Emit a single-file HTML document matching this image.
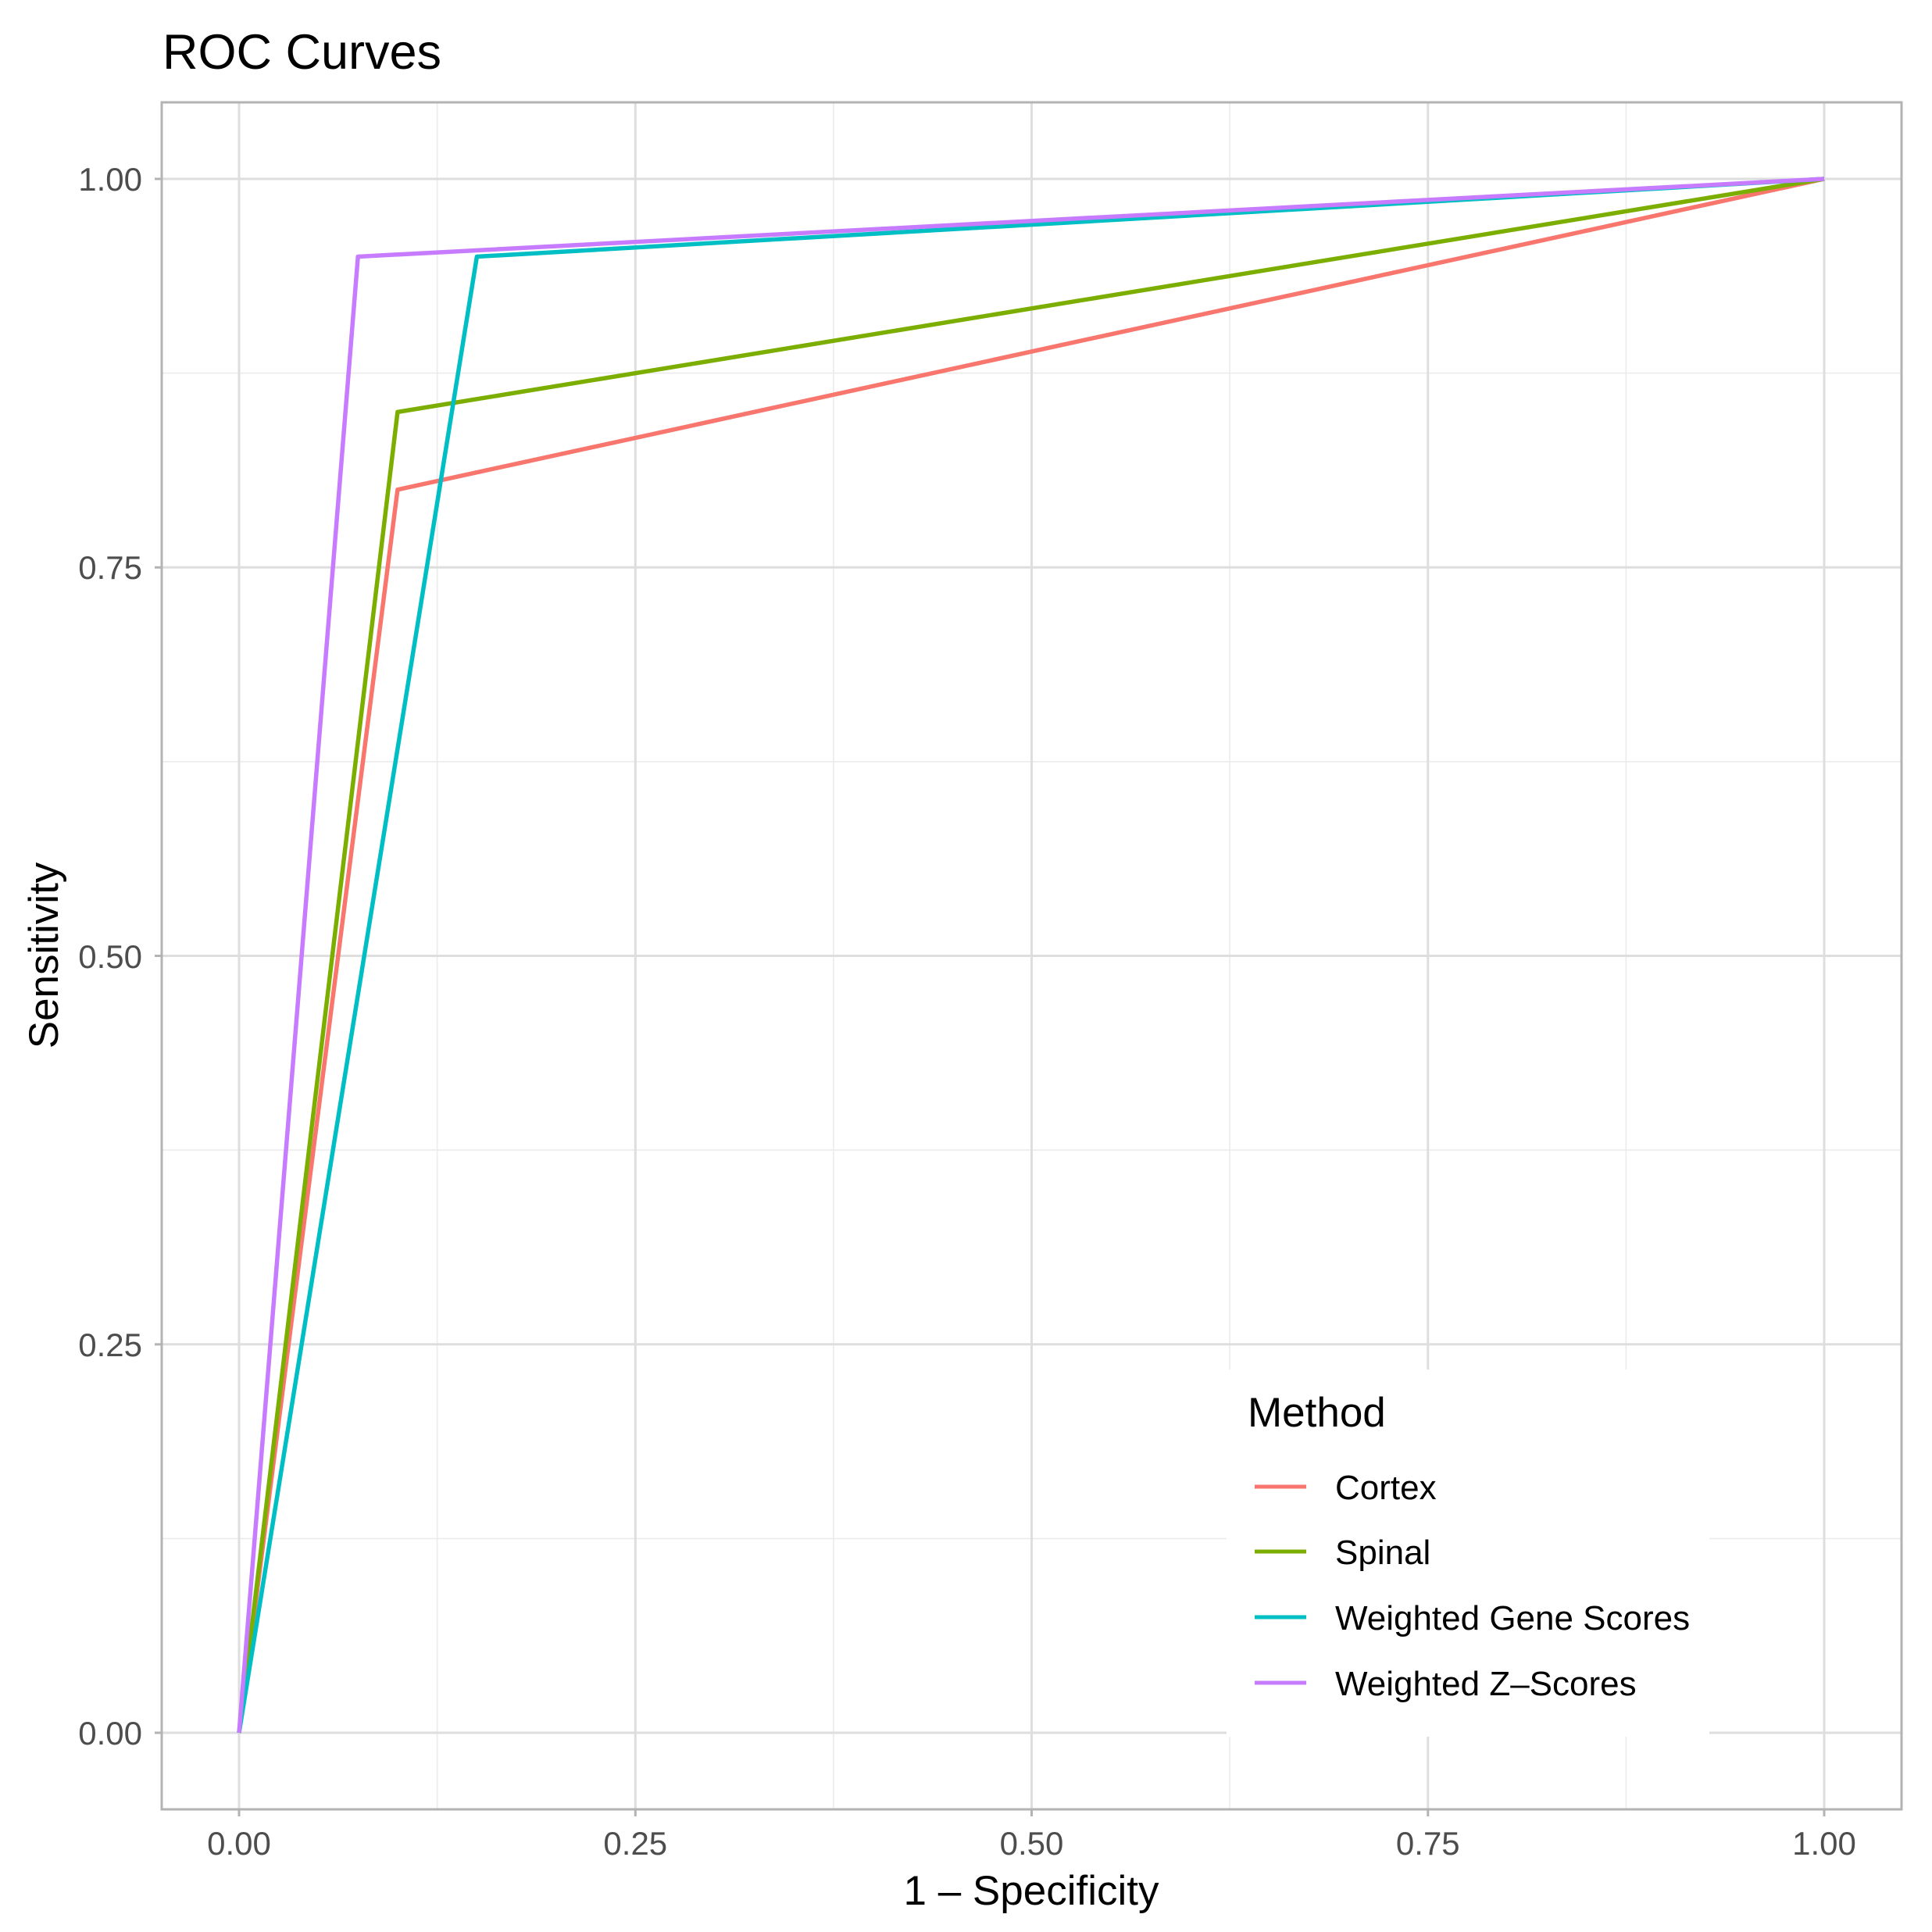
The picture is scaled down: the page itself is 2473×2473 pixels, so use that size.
<!DOCTYPE html>
<html><head><meta charset="utf-8"><style>
html,body{margin:0;padding:0;background:#fff;}
svg{display:block;font-family:"Liberation Sans",sans-serif;}
</style></head><body>
<svg width="2473" height="2473" viewBox="0 0 2473 2473" xmlns="http://www.w3.org/2000/svg">
<rect width="2473" height="2473" fill="#fff"/>
<g stroke="#EBEBEB" stroke-width="1.6">
<line x1="559.6" y1="130" x2="559.6" y2="2317"/>
<line x1="1066.9" y1="130" x2="1066.9" y2="2317"/>
<line x1="1574.1" y1="130" x2="1574.1" y2="2317"/>
<line x1="2081.4" y1="130" x2="2081.4" y2="2317"/>
<line x1="206" y1="477.6" x2="2435" y2="477.6"/>
<line x1="206" y1="974.9" x2="2435" y2="974.9"/>
<line x1="206" y1="1472.1" x2="2435" y2="1472.1"/>
<line x1="206" y1="1969.4" x2="2435" y2="1969.4"/>
</g>
<g stroke="#DEDEDE" stroke-width="3">
<line x1="306" y1="130" x2="306" y2="2317"/>
<line x1="813.3" y1="130" x2="813.3" y2="2317"/>
<line x1="1320.5" y1="130" x2="1320.5" y2="2317"/>
<line x1="1827.8" y1="130" x2="1827.8" y2="2317"/>
<line x1="2335" y1="130" x2="2335" y2="2317"/>
<line x1="206" y1="229" x2="2435" y2="229"/>
<line x1="206" y1="726.3" x2="2435" y2="726.3"/>
<line x1="206" y1="1223.5" x2="2435" y2="1223.5"/>
<line x1="206" y1="1720.8" x2="2435" y2="1720.8"/>
<line x1="206" y1="2218" x2="2435" y2="2218"/>
</g>
<g fill="none" stroke-width="5.5" stroke-linejoin="round">
<polyline stroke="#F8766D" points="306,2218 508.9,626.8 2335,229"/>
<polyline stroke="#7CAE00" points="306,2218 508.9,527.4 2335,229"/>
<polyline stroke="#00BFC4" points="306,2218 610.4,328.5 2335,229"/>
<polyline stroke="#C77CFF" points="306,2218 458.2,328.5 2335,229"/>
</g>
<rect x="1570" y="1753" width="618" height="470" fill="#fff"/>
<rect x="207" y="131" width="2227" height="2185" fill="none" stroke="#B3B3B3" stroke-width="3"/>
<g stroke="#B3B3B3" stroke-width="3">
<line x1="198" y1="229" x2="206" y2="229"/>
<line x1="198" y1="726.3" x2="206" y2="726.3"/>
<line x1="198" y1="1223.5" x2="206" y2="1223.5"/>
<line x1="198" y1="1720.8" x2="206" y2="1720.8"/>
<line x1="198" y1="2218" x2="206" y2="2218"/>
<line x1="306" y1="2317" x2="306" y2="2325"/>
<line x1="813.3" y1="2317" x2="813.3" y2="2325"/>
<line x1="1320.5" y1="2317" x2="1320.5" y2="2325"/>
<line x1="1827.8" y1="2317" x2="1827.8" y2="2325"/>
<line x1="2335" y1="2317" x2="2335" y2="2325"/>
</g>
<g fill="#4D4D4D" font-size="42" text-anchor="end">
<text x="182" y="244">1.00</text>
<text x="182" y="741">0.75</text>
<text x="182" y="1239">0.50</text>
<text x="182" y="1736">0.25</text>
<text x="182" y="2233">0.00</text>
</g>
<g fill="#4D4D4D" font-size="42" text-anchor="middle">
<text x="306" y="2374">0.00</text>
<text x="813.3" y="2374">0.25</text>
<text x="1320.5" y="2374">0.50</text>
<text x="1827.8" y="2374">0.75</text>
<text x="2335" y="2374">1.00</text>
</g>
<text x="1320" y="2438" font-size="53" text-anchor="middle" fill="#000">1 – Specificity</text>
<text transform="translate(74,1223) rotate(-90)" font-size="53" text-anchor="middle" fill="#000">Sensitivity</text>
<text x="208" y="88" font-size="63" fill="#000">ROC Curves</text>
<text x="1597" y="1826" font-size="53" fill="#000">Method</text>
<g stroke-width="5">
<line x1="1606" y1="1903" x2="1672" y2="1903" stroke="#F8766D"/>
<line x1="1606" y1="1986" x2="1672" y2="1986" stroke="#7CAE00"/>
<line x1="1606" y1="2070" x2="1672" y2="2070" stroke="#00BFC4"/>
<line x1="1606" y1="2154" x2="1672" y2="2154" stroke="#C77CFF"/>
</g>
<g font-size="44" fill="#000">
<text x="1709" y="1919">Cortex</text>
<text x="1709" y="2002">Spinal</text>
<text x="1709" y="2086">Weighted Gene Scores</text>
<text x="1709" y="2170">Weighted Z–Scores</text>
</g>
</svg>
</body></html>
